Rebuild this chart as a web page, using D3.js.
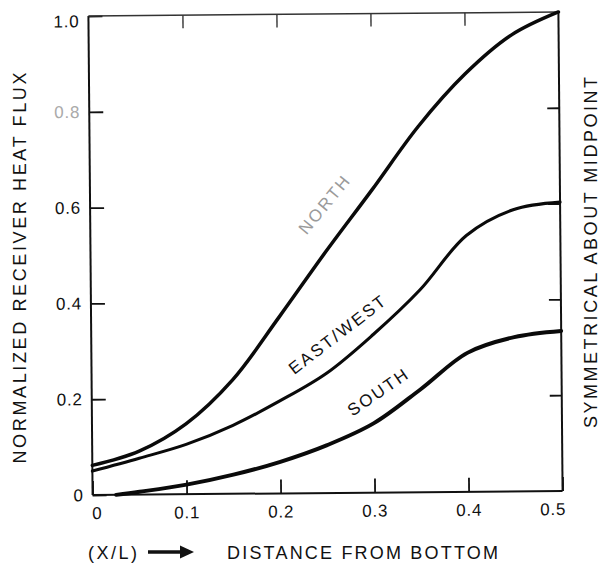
<!DOCTYPE html>
<html><head><meta charset="utf-8">
<script src="https://cdn.jsdelivr.net/npm/d3@7"></script>
<style>body{margin:0;background:#fff}svg{display:block}</style>
</head><body>
<svg id="chart" width="605" height="563"></svg>
<script>
// ---- data ----
const xTicks = [0, 0.1, 0.2, 0.3, 0.4, 0.5];
const xTickLabels = ["0", "0.1", "0.2", "0.3", "0.4", "0.5"];
const yTicks = [0, 0.2, 0.4, 0.6, 0.8, 1.0];
const yTickLabels = ["0", "0.2", "0.4", "0.6", "0.8", "1.0"];
const xs = [0, 0.05, 0.1, 0.15, 0.2, 0.25, 0.3, 0.35, 0.4, 0.45, 0.5];
const north = [0.062, 0.091, 0.147, 0.238, 0.368, 0.503, 0.632, 0.764, 0.872, 0.953, 1.0];
const eastWest = [0.05, 0.076, 0.104, 0.143, 0.193, 0.25, 0.33, 0.422, 0.535, 0.588, 0.603];
const southX = [0.025, 0.05, 0.1, 0.15, 0.2, 0.25, 0.3, 0.35, 0.4, 0.45, 0.5];
const south = [0, 0.006, 0.02, 0.04, 0.066, 0.10, 0.145, 0.215, 0.29, 0.322, 0.334];
const seriesNames = ["NORTH", "EAST/WEST", "SOUTH"];
const yTitle = "NORMALIZED RECEIVER HEAT FLUX";
const rightTitle = "SYMMETRICAL ABOUT MIDPOINT";
const xUnit = "(X/L)";
const xTitle = "DISTANCE FROM BOTTOM";

// ---- layout ----
const FONT = "'Liberation Sans', Arial, Helvetica, sans-serif";
const L = 90.5, R = 560.5, T = 14, B = 493;
const x = d3.scaleLinear().domain([0, 0.5]).range([L, R]);
const y = d3.scaleLinear().domain([0, 1]).range([B, T]);

const svg = d3.select("#chart");
const g = svg.append("g").attr("transform", "rotate(-0.5,325.5,253.5)");

// axes
const styleAxis = (sel) => {
  sel.select(".domain").remove();
  sel.selectAll(".tick line").attr("stroke", "#111").attr("stroke-width", 1.8);
  sel.selectAll("text").attr("font-family", FONT).attr("font-size", 17)
    .attr("letter-spacing", 0.8).attr("fill", "#111");
};

const gl = g.append("g").attr("transform", `translate(${L},0)`)
  .call(d3.axisLeft(y).tickValues(yTicks).tickSizeInner(-14).tickSizeOuter(0).tickPadding(9)
    .tickFormat((d, i) => yTickLabels[i]));
styleAxis(gl);
gl.selectAll(".tick").filter(d => d === 0.8).select("text").attr("fill", "#aaa");
gl.selectAll(".tick").filter(d => d === 1.0).select("text").attr("dy", "0.62em");

const gb = g.append("g").attr("transform", `translate(0,${B})`)
  .call(d3.axisBottom(x).tickValues(xTicks).tickSizeInner(-14).tickSizeOuter(0).tickPadding(12)
    .tickFormat((d, i) => xTickLabels[i]));
styleAxis(gb);
gb.selectAll(".tick").filter(d => d === 0.5).select("text").attr("dx", -10);
gb.selectAll(".tick").filter(d => d === 0).select("text").attr("dx", 4);

const gt = g.append("g").attr("transform", `translate(0,${T})`)
  .call(d3.axisTop(x).tickValues([0.1, 0.2, 0.3, 0.4]).tickSizeInner(-13).tickSizeOuter(0).tickFormat(""));
styleAxis(gt);
gt.selectAll(".tick line").attr("stroke", "#333").attr("stroke-width", 1.4);

const gr = g.append("g").attr("transform", `translate(${R},0)`)
  .call(d3.axisRight(y).tickValues([0.2, 0.4, 0.6, 0.8]).tickSizeInner(-12).tickSizeOuter(0).tickFormat(""));
styleAxis(gr);

// frame
g.append("line").attr("x1", L).attr("x2", L).attr("y1", T).attr("y2", B).attr("stroke", "#111").attr("stroke-width", 2);
g.append("line").attr("x1", L).attr("x2", R).attr("y1", B).attr("y2", B).attr("stroke", "#111").attr("stroke-width", 2);
g.append("line").attr("x1", R).attr("x2", R).attr("y1", T).attr("y2", B).attr("stroke", "#111").attr("stroke-width", 2);
g.append("line").attr("x1", L).attr("x2", R).attr("y1", T).attr("y2", T).attr("stroke", "#333").attr("stroke-width", 1.5);

// curves
const line = d3.line().x(d => x(d[0])).y(d => y(d[1])).curve(d3.curveCatmullRom.alpha(0.5));
const series = [
  { name: seriesNames[0], pts: xs.map((v, i) => [v, north[i]]), w: 3.5 },
  { name: seriesNames[1], pts: xs.map((v, i) => [v, eastWest[i]]), w: 3.1 },
  { name: seriesNames[2], pts: southX.map((v, i) => [v, south[i]]), w: 3.9 }
];
g.selectAll("path.curve").data(series).join("path")
  .attr("class", "curve").attr("d", d => line(d.pts))
  .attr("fill", "none").attr("stroke", "#0a0a0a").attr("stroke-width", d => d.w)
  .attr("stroke-linecap", "round").attr("stroke-linejoin", "round");

// curve labels
const curveLabels = [
  { t: seriesNames[0], cx: 325, cy: 204, a: -50, c: "#9a9a9a" },
  { t: seriesNames[1], cx: 337, cy: 334, a: -37, c: "#111" },
  { t: seriesNames[2], cx: 377, cy: 392, a: -34, c: "#111" }
];
g.selectAll("text.clab").data(curveLabels).join("text")
  .attr("class", "clab")
  .attr("transform", d => `translate(${d.cx},${d.cy}) rotate(${d.a})`)
  .attr("text-anchor", "middle").attr("dy", "0.36em")
  .attr("font-family", FONT).attr("font-size", 17).attr("letter-spacing", 2.3)
  .attr("fill", d => d.c).text(d => d.t);

// titles
svg.append("text").attr("transform", "translate(26,268) rotate(-90)")
  .attr("text-anchor", "middle").attr("font-family", FONT).attr("font-size", 18)
  .attr("fill", "#111").attr("textLength", 391).attr("lengthAdjust", "spacing").text(yTitle);
svg.append("text").attr("transform", "translate(597,252.5) rotate(-90)")
  .attr("text-anchor", "middle").attr("font-family", FONT).attr("font-size", 18)
  .attr("fill", "#111").attr("textLength", 351).attr("lengthAdjust", "spacing").text(rightTitle);
svg.append("text").attr("x", 88).attr("y", 559)
  .attr("font-family", FONT).attr("font-size", 18).attr("fill", "#111")
  .attr("textLength", 49).attr("lengthAdjust", "spacing").text(xUnit);
svg.append("line").attr("x1", 148).attr("x2", 182).attr("y1", 552).attr("y2", 552)
  .attr("stroke", "#111").attr("stroke-width", 3.5);
svg.append("path").attr("d", "M180,545.5 L194,552 L180,558.5 Z").attr("fill", "#111");
svg.append("text").attr("x", 227).attr("y", 559)
  .attr("font-family", FONT).attr("font-size", 18).attr("fill", "#111")
  .attr("textLength", 271).attr("lengthAdjust", "spacing").text(xTitle);
</script>
</body></html>
